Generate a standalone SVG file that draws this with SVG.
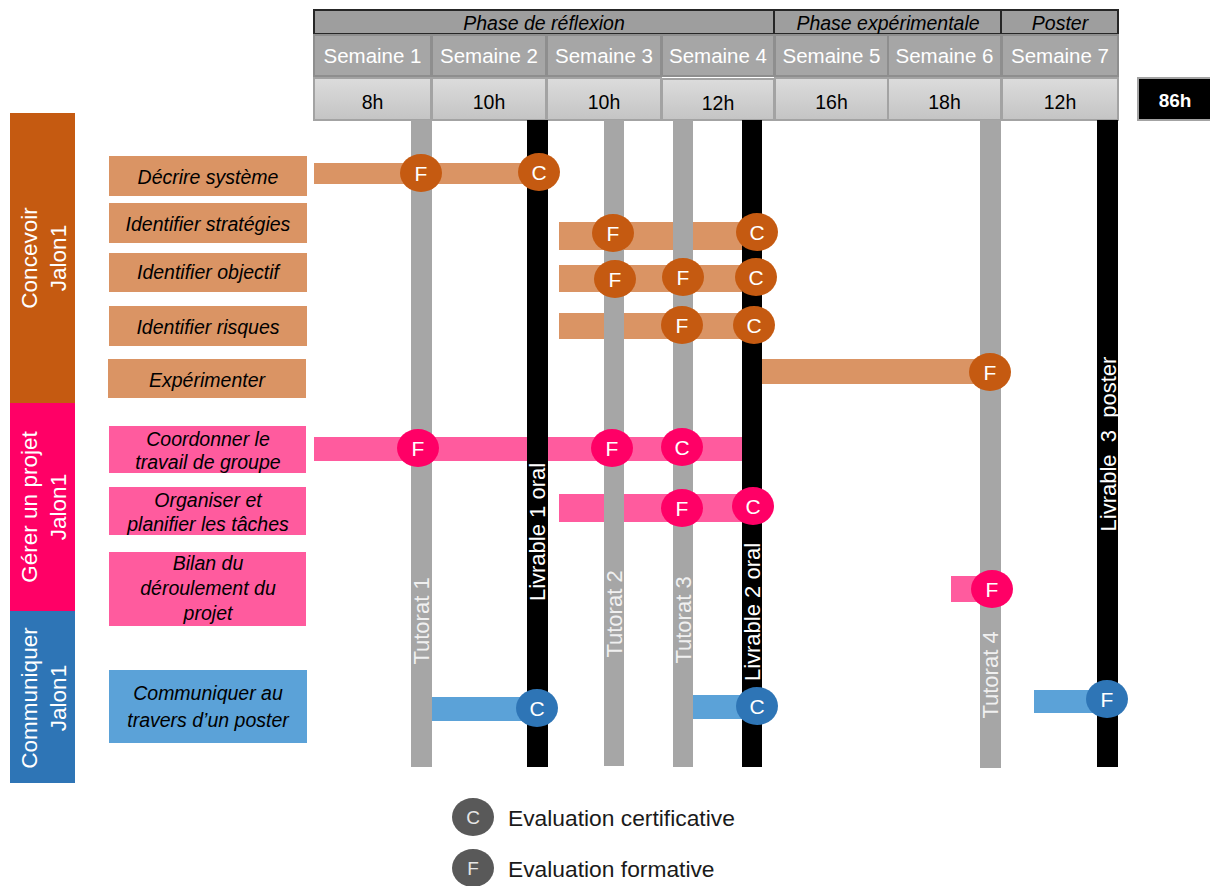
<svg xmlns="http://www.w3.org/2000/svg" width="1210" height="886" viewBox="0 0 1210 886">
<defs>
<linearGradient id="gh" x1="0" y1="0" x2="0" y2="1">
<stop offset="0" stop-color="#dcdcdc"/>
<stop offset="1" stop-color="#c4c4c4"/>
</linearGradient>
</defs>
<style>
text{font-family:"Liberation Sans",Arial,sans-serif}
.ph{fill:#9e9e9e;stroke:#262626;stroke-width:2}
.pht{font-size:19.5px;font-style:italic;fill:#000;text-anchor:middle}
.wk{fill:#a6a6a6;stroke:#8e8e8e;stroke-width:2}
.wkt{font-size:20.5px;fill:#fff;text-anchor:middle}
.hr{fill:url(#gh);stroke:#a3a3a3;stroke-width:2}
.hrt{font-size:19.5px;fill:#000;text-anchor:middle}
.cat{font-size:22.5px;fill:#fff;text-anchor:middle}
.task{font-size:19.5px;font-style:italic;fill:#000;text-anchor:middle}
.o{fill:#DA9464}.p{fill:#FF5B9E}.b{fill:#5BA2D8}
.oc{fill:#C55A11}.pc{fill:#FF0066}.bc{fill:#2E75B6}
.gb{fill:#a6a6a6}.kb{fill:#000}
.vt{font-size:22px;text-anchor:middle;white-space:pre}
.ct{font-size:21px;fill:#fff;text-anchor:middle}
.lg{fill:#595959}
.lgt{font-size:19px;fill:#e6e6e6;text-anchor:middle}
.leg{font-size:22.8px;fill:#1a1a1a}
</style>

<!-- Header -->
<g id="header">
  <g id="phase-reflexion"><rect class="ph" x="314" y="10" width="460" height="24"/><text class="pht" x="544" y="30">Phase de réflexion</text></g>
  <g id="phase-experimentale"><rect class="ph" x="774" y="10" width="227" height="24"/><text class="pht" x="888" y="30">Phase expérimentale</text></g>
  <g id="phase-poster"><rect class="ph" x="1001" y="10" width="117" height="24"/><text class="pht" x="1060" y="30">Poster</text></g>

  <g id="semaine1"><rect class="wk" x="314" y="35" width="117" height="41"/><text class="wkt" x="372.5" y="63">Semaine 1</text></g>
  <g id="semaine2"><rect class="wk" x="432" y="35" width="114" height="41"/><text class="wkt" x="489" y="63">Semaine 2</text></g>
  <g id="semaine3"><rect class="wk" x="547" y="35" width="114" height="41"/><text class="wkt" x="604" y="63">Semaine 3</text></g>
  <g id="semaine4"><rect class="wk" x="662" y="35" width="112" height="41"/><text class="wkt" x="718" y="63">Semaine 4</text></g>
  <g id="semaine5"><rect class="wk" x="775" y="35" width="113" height="41"/><text class="wkt" x="831.5" y="63">Semaine 5</text></g>
  <g id="semaine6"><rect class="wk" x="888" y="35" width="113" height="41"/><text class="wkt" x="944.5" y="63">Semaine 6</text></g>
  <g id="semaine7"><rect class="wk" x="1002" y="35" width="116" height="41"/><text class="wkt" x="1060" y="63">Semaine 7</text></g>

  <g id="h1"><rect class="hr" x="314" y="78" width="117" height="42"/><text class="hrt" x="372.5" y="109">8h</text></g>
  <g id="h2"><rect class="hr" x="432" y="78" width="114" height="42"/><text class="hrt" x="489" y="109">10h</text></g>
  <g id="h3"><rect class="hr" x="547" y="78" width="114" height="42"/><text class="hrt" x="604" y="109">10h</text></g>
  <g id="h4"><rect class="hr" x="662" y="79" width="112" height="41"/><text class="hrt" x="718" y="110">12h</text></g>
  <g id="h5"><rect class="hr" x="775" y="78" width="113" height="42"/><text class="hrt" x="831.5" y="109">16h</text></g>
  <g id="h6"><rect class="hr" x="888" y="78" width="113" height="42"/><text class="hrt" x="944.5" y="109">18h</text></g>
  <g id="h7"><rect class="hr" x="1002" y="78" width="116" height="42"/><text class="hrt" x="1060" y="109">12h</text></g>

  <g id="total"><rect x="1138" y="78" width="73" height="42" fill="#000" stroke="#a3a3a3" stroke-width="2"/><text x="1175" y="107" font-size="19px" font-weight="bold" fill="#fff" text-anchor="middle">86h</text></g>
</g>

<!-- Categories -->
<g id="cat-concevoir">
  <rect x="10" y="113" width="65" height="290" fill="#C55A11"/>
  <g transform="translate(42,258) rotate(-90)"><text class="cat" y="-5">Concevoir</text><text class="cat" y="24">Jalon1</text></g>
</g>
<g id="cat-gerer">
  <rect x="10" y="403" width="65" height="208" fill="#FF0066"/>
  <g transform="translate(42,507) rotate(-90)"><text class="cat" y="-5">Gérer un projet</text><text class="cat" y="24">Jalon1</text></g>
</g>
<g id="cat-communiquer">
  <rect x="10" y="611" width="65" height="172" fill="#2E75B6"/>
  <g transform="translate(42,698) rotate(-90)"><text class="cat" y="-5">Communiquer</text><text class="cat" y="24">Jalon1</text></g>
</g>

<!-- Tasks -->
<g id="task-decrire"><rect class="o" x="109" y="156" width="198" height="40"/><text class="task" x="208" y="184">Décrire système</text></g>
<g id="task-strategies"><rect class="o" x="109" y="203" width="198" height="40"/><text class="task" x="208" y="230.5">Identifier stratégies</text></g>
<g id="task-objectif"><rect class="o" x="109" y="253" width="198" height="39"/><text class="task" x="208" y="279">Identifier objectif</text></g>
<g id="task-risques"><rect class="o" x="109" y="306" width="198" height="40"/><text class="task" x="208" y="334">Identifier risques</text></g>
<g id="task-experimenter"><rect class="o" x="108" y="359" width="198" height="39"/><text class="task" x="207" y="386.5">Expérimenter</text></g>
<g id="task-coordonner"><rect class="p" x="109" y="426" width="197" height="47"/><text class="task" x="208" y="446">Coordonner le</text><text class="task" x="208" y="469">travail de groupe</text></g>
<g id="task-organiser"><rect class="p" x="109" y="487" width="197" height="48"/><text class="task" x="208" y="507">Organiser et</text><text class="task" x="208" y="531">planifier les tâches</text></g>
<g id="task-bilan"><rect class="p" x="109" y="552" width="197" height="74"/><text class="task" x="208" y="570">Bilan du</text><text class="task" x="208" y="595">déroulement du</text><text class="task" x="208" y="620">projet</text></g>
<g id="task-poster"><rect class="b" x="109" y="670" width="198" height="73"/><text class="task" x="208" y="700">Communiquer au</text><text class="task" x="208" y="727">travers d’un poster</text></g>

<!-- Connectors: task bars -->
<g id="connectors">
  <rect class="o" x="314" y="163" width="216" height="21"/>
  <rect class="o" x="559" y="222" width="185" height="28"/>
  <rect class="o" x="559" y="265" width="185" height="27"/>
  <rect class="o" x="559" y="313" width="185" height="26"/>
  <rect class="o" x="762" y="359" width="220" height="25"/>
  <rect class="p" x="314" y="437" width="428" height="24"/>
  <rect class="p" x="559" y="494" width="185" height="28"/>
  <rect class="p" x="951" y="576" width="30" height="26"/>
  <rect class="b" x="431" y="697" width="98" height="24"/>
  <rect class="b" x="692" y="695" width="52" height="24"/>
  <rect class="b" x="1034" y="690" width="65" height="23"/>
</g>

<!-- Milestone bars -->
<g id="tutorat1"><rect class="gb" x="411" y="120" width="21" height="647"/><text class="vt" fill="#f0f0f0" transform="translate(429,621) rotate(-90)">Tutorat 1</text></g>
<g id="livrable1"><rect class="kb" x="527" y="120" width="21" height="647"/><text class="vt" fill="#fff" transform="translate(545,532) rotate(-90)">Livrable 1 oral</text></g>
<g id="tutorat2"><rect class="gb" x="604" y="120" width="20" height="646"/><text class="vt" fill="#f0f0f0" transform="translate(622,614) rotate(-90)">Tutorat 2</text></g>
<g id="tutorat3"><rect class="gb" x="673" y="120" width="20" height="647"/><text class="vt" fill="#f0f0f0" transform="translate(691,620) rotate(-90)">Tutorat 3</text></g>
<g id="livrable2"><rect class="kb" x="742" y="120" width="20" height="647"/><text class="vt" fill="#fff" transform="translate(760,612) rotate(-90)">Livrable 2 oral</text></g>
<g id="tutorat4"><rect class="gb" x="980" y="120" width="21" height="648"/><text class="vt" fill="#f0f0f0" transform="translate(998,675) rotate(-90)">Tutorat 4</text></g>
<g id="livrable3"><rect class="kb" x="1097" y="120" width="21" height="647"/><text class="vt" fill="#fff" transform="translate(1116,444) rotate(-90)">Livrable  3  poster</text></g>

<!-- Evaluation markers -->
<g id="markers">
  <g><ellipse class="oc" cx="421" cy="173" rx="21" ry="19"/><text class="ct" x="421" y="180.5">F</text></g>
  <g><ellipse class="oc" cx="539" cy="172" rx="21" ry="19"/><text class="ct" x="539" y="179.5">C</text></g>
  <g><ellipse class="oc" cx="613" cy="233" rx="21" ry="19"/><text class="ct" x="613" y="240.5">F</text></g>
  <g><ellipse class="oc" cx="757" cy="232" rx="21" ry="19"/><text class="ct" x="757" y="239.5">C</text></g>
  <g><ellipse class="oc" cx="615" cy="279" rx="21" ry="19"/><text class="ct" x="615" y="286.5">F</text></g>
  <g><ellipse class="oc" cx="683" cy="277" rx="21" ry="19"/><text class="ct" x="683" y="284.5">F</text></g>
  <g><ellipse class="oc" cx="756" cy="277" rx="21" ry="19"/><text class="ct" x="756" y="284.5">C</text></g>
  <g><ellipse class="oc" cx="682" cy="325" rx="21" ry="19"/><text class="ct" x="682" y="332.5">F</text></g>
  <g><ellipse class="oc" cx="754" cy="325" rx="21" ry="19"/><text class="ct" x="754" y="332.5">C</text></g>
  <g><ellipse class="oc" cx="990" cy="372" rx="21" ry="19"/><text class="ct" x="990" y="379.5">F</text></g>
  <g><ellipse class="pc" cx="418" cy="448" rx="21" ry="19"/><text class="ct" x="418" y="455.5">F</text></g>
  <g><ellipse class="pc" cx="612" cy="448" rx="21" ry="19"/><text class="ct" x="612" y="455.5">F</text></g>
  <g><ellipse class="pc" cx="682" cy="447" rx="21" ry="19"/><text class="ct" x="682" y="454.5">C</text></g>
  <g><ellipse class="pc" cx="682" cy="508" rx="21" ry="19"/><text class="ct" x="682" y="515.5">F</text></g>
  <g><ellipse class="pc" cx="753" cy="506" rx="21" ry="19"/><text class="ct" x="753" y="513.5">C</text></g>
  <g><ellipse class="pc" cx="992" cy="589" rx="21" ry="19"/><text class="ct" x="992" y="596.5">F</text></g>
  <g><ellipse class="bc" cx="537" cy="708" rx="21" ry="19"/><text class="ct" x="537" y="715.5">C</text></g>
  <g><ellipse class="bc" cx="757" cy="706" rx="21" ry="19"/><text class="ct" x="757" y="713.5">C</text></g>
  <g><ellipse class="bc" cx="1107" cy="699" rx="21" ry="19"/><text class="ct" x="1107" y="706.5">F</text></g>
</g>

<!-- Legend -->
<g id="legend">
  <g><ellipse class="lg" cx="473" cy="817" rx="21" ry="19"/><text class="lgt" x="473" y="824">C</text><text class="leg" x="508" y="826">Evaluation certificative</text></g>
  <g><ellipse class="lg" cx="473" cy="868" rx="21" ry="19"/><text class="lgt" x="473" y="875">F</text><text class="leg" x="508" y="877">Evaluation formative</text></g>
</g>
</svg>
